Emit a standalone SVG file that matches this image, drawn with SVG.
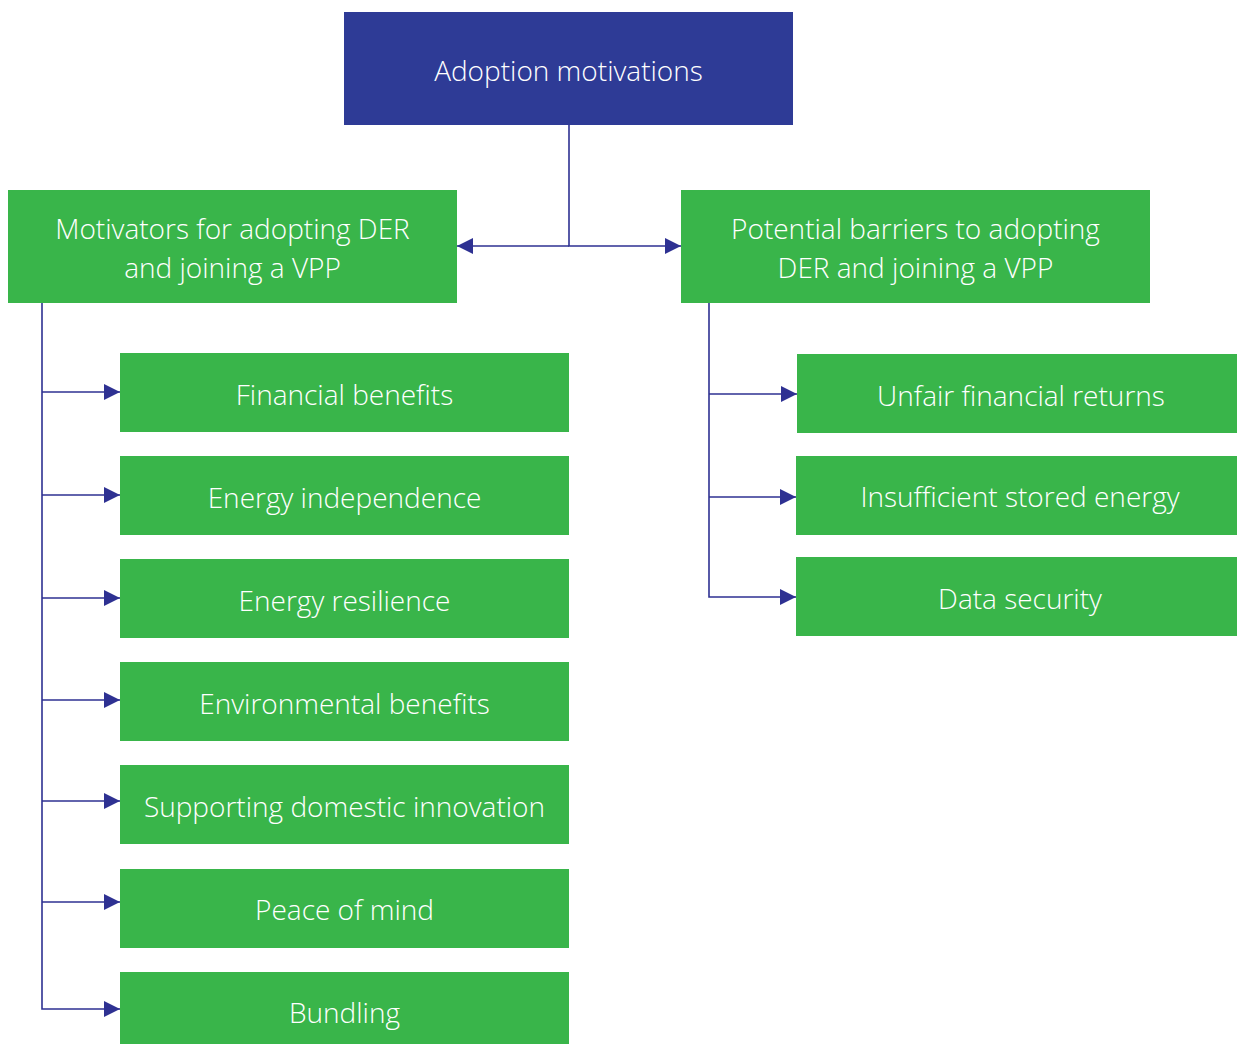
<svg xmlns="http://www.w3.org/2000/svg" width="1237" height="1044" viewBox="0 0 1237 1044">
<defs>
<style>
.g{fill:#39b54a}
.b{fill:#2e3b96}
text{font-family:"Open Sans","Noto Sans","Liberation Sans",sans-serif;font-weight:300;font-size:28px;fill:#fff;text-anchor:middle}
.c{fill:none;stroke:#2e3192;stroke-width:1.6}
</style>
<marker id="ah" viewBox="0 0 16 16" refX="16" refY="8" markerWidth="16" markerHeight="16" markerUnits="userSpaceOnUse" orient="auto">
<path d="M0,0 L16,8 L0,16 Z" fill="#2e3192"/>
</marker>
</defs>
<rect width="1237" height="1044" fill="#fff"/>
<g id="connectors">
<path class="c" d="M569,125 V246 H681" marker-end="url(#ah)"/>
<path class="c" d="M569,246 H457" marker-end="url(#ah)"/>
<path class="c" d="M42,303 V1009 H120" marker-end="url(#ah)"/>
<path class="c" d="M42,392 H120" marker-end="url(#ah)"/>
<path class="c" d="M42,495 H120" marker-end="url(#ah)"/>
<path class="c" d="M42,598 H120" marker-end="url(#ah)"/>
<path class="c" d="M42,700 H120" marker-end="url(#ah)"/>
<path class="c" d="M42,801 H120" marker-end="url(#ah)"/>
<path class="c" d="M42,902 H120" marker-end="url(#ah)"/>
<path class="c" d="M709,303 V597 H796" marker-end="url(#ah)"/>
<path class="c" d="M709,394 H797" marker-end="url(#ah)"/>
<path class="c" d="M709,497 H796" marker-end="url(#ah)"/>
</g>
<g id="root"><rect class="b" x="344" y="12" width="449" height="113"/><text x="568.5" y="81">Adoption motivations</text></g>
<g id="motivators"><rect class="g" x="8" y="190" width="449" height="113"/><text x="232.5" y="239">Motivators for adopting DER</text><text x="232.5" y="278">and joining a VPP</text></g>
<g id="barriers"><rect class="g" x="681" y="190" width="469" height="113"/><text x="915.5" y="239">Potential barriers to adopting</text><text x="915.5" y="278">DER and joining a VPP</text></g>
<g id="financial"><rect class="g" x="120" y="353" width="449" height="79"/><text x="344.5" y="405">Financial benefits</text></g>
<g id="independence"><rect class="g" x="120" y="456" width="449" height="79"/><text x="344.5" y="508">Energy independence</text></g>
<g id="resilience"><rect class="g" x="120" y="559" width="449" height="79"/><text x="344.5" y="611">Energy resilience</text></g>
<g id="environmental"><rect class="g" x="120" y="662" width="449" height="79"/><text x="344.5" y="714">Environmental benefits</text></g>
<g id="innovation"><rect class="g" x="120" y="765" width="449" height="79"/><text x="344.5" y="817">Supporting domestic innovation</text></g>
<g id="peace"><rect class="g" x="120" y="869" width="449" height="79"/><text x="344.5" y="920">Peace of mind</text></g>
<g id="bundling"><rect class="g" x="120" y="972" width="449" height="72"/><text x="344.5" y="1023">Bundling</text></g>
<g id="unfair"><rect class="g" x="797" y="354" width="440" height="79"/><text x="1021" y="406">Unfair financial returns</text></g>
<g id="insufficient"><rect class="g" x="796" y="456" width="441" height="79"/><text x="1020" y="507">Insufficient stored energy</text></g>
<g id="security"><rect class="g" x="796" y="557" width="441" height="79"/><text x="1020" y="609">Data security</text></g>
</svg>
